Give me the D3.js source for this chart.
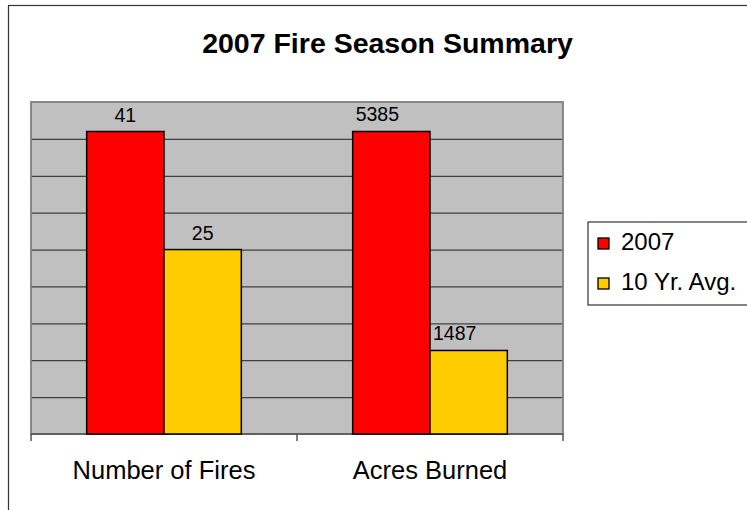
<!DOCTYPE html>
<html>
<head>
<meta charset="utf-8">
<script src="https://cdn.jsdelivr.net/npm/d3@7"></script>
<style>
  body { margin: 0; background: #fff; }
  svg { display: block; font-family: "Liberation Sans", Arial, sans-serif; }
</style>
</head>
<body>
<div id="chart"></div>
<script>
var width = 747;
var height = 510;

// data
var categories = ["Number of Fires", "Acres Burned"];
var seriesNames = ["2007", "10 Yr. Avg."];
var values2007 = [41, 5385];
var valuesAvg = [25, 1487];
// each category has its own (hidden) value scale
var axisMax = [45, 5910];
var colors = ["#ff0000", "#ffcc00"];

var plot = { left: 31, right: 563, top: 102, bottom: 434 };

var svg = d3.select("#chart").append("svg")
    .attr("width", width)
    .attr("height", height);

// outer chart border
svg.append("rect")
    .attr("x", 8.5).attr("y", 5.5)
    .attr("width", 800).attr("height", 600)
    .attr("fill", "#fff")
    .attr("stroke", "#333").attr("stroke-width", 1.2);

svg.append("text")
    .attr("x", 387.5).attr("y", 53)
    .attr("text-anchor", "middle")
    .attr("font-weight", "bold")
    .attr("font-size", "28.5px")
    .text("2007 Fire Season Summary");

var x = d3.scaleBand()
    .domain(categories)
    .range([plot.left, plot.right])
    .padding(0);

var xs = d3.scaleBand()
    .domain(seriesNames)
    .range([0, x.bandwidth()])
    .paddingInner(0)
    .paddingOuter(0.72);

var yScales = axisMax.map(m => d3.scaleLinear().domain([0, m]).range([plot.bottom, plot.top]));
var yGrid = yScales[0];

// plot background
svg.append("rect")
    .attr("x", plot.left).attr("y", plot.top)
    .attr("width", plot.right - plot.left)
    .attr("height", plot.bottom - plot.top)
    .attr("fill", "#c0c0c0");

// gridlines
svg.append("g")
    .attr("transform", `translate(${plot.left},0)`)
    .call(d3.axisLeft(yGrid).ticks(9).tickSize(-(plot.right - plot.left)).tickFormat(""))
    .call(g => g.select(".domain").remove())
    .call(g => g.selectAll(".tick line").attr("stroke", "#404040").attr("stroke-width", 1.3))
    .call(g => g.selectAll(".tick").filter(d => d === 0 || d === 45).remove());

// plot border
svg.append("rect")
    .attr("x", plot.left).attr("y", plot.top)
    .attr("width", plot.right - plot.left)
    .attr("height", plot.bottom - plot.top)
    .attr("fill", "none")
    .attr("stroke", "#808080").attr("stroke-width", 1.8);

// category axis
var xAxis = svg.append("g")
    .attr("transform", `translate(0,${plot.bottom})`);
xAxis.append("line")
    .attr("x1", plot.left).attr("x2", plot.right)
    .attr("stroke", "#555").attr("stroke-width", 1.5);
xAxis.selectAll(".tk")
    .data([plot.left].concat(categories.map(c => x(c) + x.bandwidth())))
    .enter().append("line")
    .attr("x1", d => d).attr("x2", d => d)
    .attr("y1", 0).attr("y2", 7)
    .attr("stroke", "#555").attr("stroke-width", 1.5);
xAxis.selectAll(".cat")
    .data(categories)
    .enter().append("text")
    .attr("x", d => x(d) + x.bandwidth() / 2)
    .attr("y", 45)
    .attr("text-anchor", "middle")
    .attr("font-size", "25.5px")
    .text(d => d);

// bars
var rows = [];
categories.forEach((c, i) => {
    rows.push({ cat: c, idx: i, series: seriesNames[0], value: values2007[i], color: colors[0] });
    rows.push({ cat: c, idx: i, series: seriesNames[1], value: valuesAvg[i], color: colors[1] });
});

svg.append("g").selectAll("rect")
    .data(rows)
    .enter().append("rect")
    .attr("x", d => x(d.cat) + xs(d.series))
    .attr("y", d => yScales[d.idx](d.value))
    .attr("width", xs.bandwidth())
    .attr("height", d => plot.bottom - yScales[d.idx](d.value))
    .attr("fill", d => d.color)
    .attr("stroke", "#000").attr("stroke-width", 1.5);

// value labels
svg.append("g").selectAll("text")
    .data(rows)
    .enter().append("text")
    .attr("x", d => x(d.cat) + xs(d.series) + xs.bandwidth() / 2 + (d.idx === 1 ? -14 : 0))
    .attr("y", d => yScales[d.idx](d.value) - 10)
    .attr("text-anchor", "middle")
    .attr("font-size", "19.5px")
    .text(d => d.value);

// legend
var legend = svg.append("g");
legend.append("rect")
    .attr("x", 588).attr("y", 222)
    .attr("width", 200).attr("height", 83)
    .attr("fill", "#fff")
    .attr("stroke", "#333").attr("stroke-width", 1.2);
var items = legend.selectAll(".item")
    .data(seriesNames)
    .enter().append("g")
    .attr("transform", (d, i) => `translate(0,${i * 40})`);
items.append("rect")
    .attr("x", 598).attr("y", 238)
    .attr("width", 11).attr("height", 11)
    .attr("fill", (d, i) => colors[i])
    .attr("stroke", "#000").attr("stroke-width", 1.3);
items.append("text")
    .attr("x", 621).attr("y", 250)
    .attr("font-size", "24px")
    .text(d => d);
</script>
</body>
</html>
